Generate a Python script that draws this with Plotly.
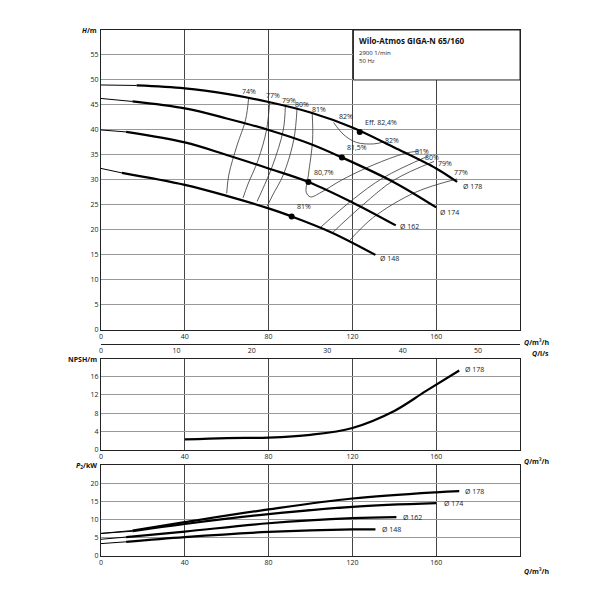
import plotly.graph_objects as go

# Kennlinien H(Q) je Laufraddurchmesser
h_q = {
    "178": [0, 17, 40, 60, 80, 100, 120, 140, 160, 170],
    "174": [0, 15, 40, 60, 80, 100, 115, 140, 160],
    "162": [0, 12, 40, 60, 80, 99, 120, 140.7],
    "148": [0, 10, 40, 60, 80, 91, 110, 131],
}
h_h = {
    "178": [49, 48.9, 48.3, 47.2, 45.6, 43.5, 40.5, 36.5, 32.3, 29.6],
    "174": [46.3, 45.7, 44.3, 42.3, 40, 37.2, 34.5, 29.5, 24.5],
    "162": [40, 39.6, 37.5, 35, 32.3, 29.6, 25.5, 20.9],
    "148": [32.3, 31.4, 29, 26.8, 24.3, 22.7, 19.5, 15],
}
h_labels = {"178": (172, 28.6), "174": (161, 23.5), "162": (142, 20.7), "148": (132, 14.3)}

# Wirkungsgrad-Isolinien
eff_lines = [
    ("74%", [70.5, 69, 65, 61, 60], [46.5, 42, 37, 31, 27.3], (70.5, 47.6)),
    ("77%", [80.5, 79, 75, 70, 67.8], [45.6, 40, 34, 29, 26.4], (82, 46.8)),
    ("79%", [88, 87, 82, 77, 74.5], [45, 40, 33, 28, 25.7], (89.5, 45.8)),
    ("80%", [93.6, 92, 87, 82, 79.3], [44.5, 38, 31, 27, 24.7], (96, 45)),
    ("81%", [100.8, 101, 99, 98, 100, 105, 115, 130, 145, 152],
     [43.4, 38, 31, 27.5, 26.6, 27.5, 30, 33, 35.3, 35.8], (104, 44)),
    ("82%", [111, 116, 122, 130, 135], [41.5, 39, 37.5, 37.2, 37.6], (117, 42.6)),
    ("80%", [104.8, 120, 135, 155.8], [20.5, 26, 30.5, 34.7], (158, 34.5)),
    ("79%", [110.4, 125, 140, 159], [19.4, 25, 30, 33.7], (164, 33.3)),
    ("77%", [118.3, 130, 150, 170], [17.7, 22.5, 27.5, 30.2], (172, 31.5)),
]
extra_eff_labels = [("81%", (153, 35.6)), ("82%", (139, 37.8))]

bep_q = [123.5, 115, 99, 91]
bep_h = [39.6, 34.5, 29.6, 22.7]
bep_text = ["Eff. 82,4%", "81,5%", "80,7%", "81%"]

npsh_q = [40, 60, 80, 100, 120, 140, 155, 171]
npsh_v = [2.3, 2.6, 2.7, 3.3, 4.8, 8.5, 12.8, 17.3]

p_q = {
    "178": [0, 15, 40, 80, 120, 160, 171],
    "174": [0, 15, 40, 80, 120, 160],
    "162": [0, 12, 40, 80, 120, 141],
    "148": [0, 12, 40, 80, 120, 131],
}
p_v = {
    "178": [6.2, 7.0, 9.3, 12.8, 15.8, 17.5, 17.8],
    "174": [6.2, 6.8, 8.8, 11.5, 13.5, 14.5],
    "162": [4.6, 5.2, 6.7, 9.0, 10.4, 10.7],
    "148": [3.4, 3.9, 5.2, 6.6, 7.3, 7.3],
}
p_labels = {"178": (173, 17.8), "174": (163, 14.4), "162": (143, 10.7), "148": (133, 7.3)}

FONT = "Open Sans"
TXT = dict(family=FONT, size=7, color="#222")
fig = go.Figure()


def curve(xs, ys, xa, ya, thin_first=True):
    if thin_first:
        fig.add_trace(go.Scatter(x=xs[:2], y=ys[:2], mode="lines", xaxis=xa, yaxis=ya,
                                 line=dict(color="black", width=1, shape="spline")))
        xs, ys = xs[1:], ys[1:]
    fig.add_trace(go.Scatter(x=xs, y=ys, mode="lines", xaxis=xa, yaxis=ya,
                             line=dict(color="black", width=2.2, shape="spline")))


for name, qs, hs, pos in eff_lines:
    fig.add_trace(go.Scatter(x=qs, y=hs, mode="lines",
                             line=dict(color="#333", width=0.8, shape="spline")))
    fig.add_annotation(x=pos[0], y=pos[1], text=name, showarrow=False, font=TXT)
for name, pos in extra_eff_labels:
    fig.add_annotation(x=pos[0], y=pos[1], text=name, showarrow=False, font=TXT)

for k in h_q:
    curve(h_q[k], h_h[k], "x", "y")
    fig.add_annotation(x=h_labels[k][0], y=h_labels[k][1], text="Ø " + k, showarrow=False,
                       xanchor="left", font=TXT)

fig.add_trace(go.Scatter(x=bep_q, y=bep_h, mode="markers",
                         marker=dict(color="black", size=6)))
for q, h, t in zip(bep_q, bep_h, bep_text):
    fig.add_annotation(x=q + 1.5, y=h + 0.6, text=t, showarrow=False, xanchor="left",
                       yanchor="bottom", font=TXT)

# Typ-Kasten
fig.add_shape(type="rect", x0=120.5, x1=200, y0=50, y1=60, xref="x", yref="y",
              line=dict(color="#222", width=1), fillcolor="white")
fig.add_annotation(x=122, y=59.5, text="<b>Wilo-Atmos GIGA-N 65/160</b>", showarrow=False,
                   xanchor="left", yanchor="top", font=dict(family=FONT, size=8, color="#111"))
fig.add_annotation(x=122, y=56.6, text="2900 1/min<br>50 Hz", showarrow=False, align="left",
                   xanchor="left", yanchor="top", font=dict(family=FONT, size=6, color="#222"))

curve(npsh_q, npsh_v, "x3", "y3", thin_first=False)
fig.add_annotation(x=173, y=17.5, text="Ø 178", showarrow=False, xanchor="left",
                   xref="x3", yref="y3", font=TXT)

for k in p_q:
    curve(p_q[k], p_v[k], "x4", "y4")
    fig.add_annotation(x=p_labels[k][0], y=p_labels[k][1], text="Ø " + k, showarrow=False,
                       xanchor="left", xref="x4", yref="y4", font=TXT)

grid_x = dict(range=[0, 200], tickvals=[0, 40, 80, 120, 160], showgrid=True,
              gridcolor="#444", gridwidth=0.8, showline=True, linecolor="#222", mirror=True,
              zeroline=False, tickfont=TXT, ticks="", fixedrange=True)
grid_y = dict(showgrid=True, gridcolor="#999", gridwidth=0.8, showline=True,
              linecolor="#222", mirror=True, zeroline=False, tickfont=TXT, ticks="")

fig.update_layout(
    width=600, height=600, showlegend=False,
    margin=dict(l=93, r=88, t=22, b=52),
    paper_bgcolor="white", plot_bgcolor="white",
    xaxis=dict(grid_x, anchor="y"),
    yaxis=dict(grid_y, domain=[0.43, 1], range=[0, 60],
               tickvals=list(range(0, 60, 5))),
    xaxis2=dict(range=[0, 200 / 3.6], overlaying="x", anchor="free", position=0.403,
                side="bottom", tickvals=[0, 10, 20, 30, 40, 50], showgrid=False,
                showline=True, linecolor="#222", tickfont=TXT, ticks="", zeroline=False),
    xaxis3=dict(grid_x, anchor="y3"),
    yaxis3=dict(grid_y, domain=[0.2015, 0.3745], range=[0, 19.8], tickvals=[0, 4, 8, 12, 16]),
    xaxis4=dict(grid_x, anchor="y4"),
    yaxis4=dict(grid_y, domain=[0, 0.173], range=[0, 25], tickvals=[0, 5, 10, 15, 20]),
)
# unsichtbare Spur für die l/s-Achse
fig.add_trace(go.Scatter(x=[0], y=[0], xaxis="x2", yaxis="y", mode="markers",
                         marker=dict(opacity=0), hoverinfo="skip"))

AX = dict(family=FONT, size=7, color="#111")
for x, y, t in [(-0.005, 1.0, "<b><i>H</i>/m</b>"), (1.075, 0.405, "<b><i>Q</i>/m³/h</b>"),
                (1.075, 0.385, "<b><i>Q</i>/l/s</b>"), (-0.005, 0.373, "<b>NPSH/m</b>"),
                (1.075, 0.18, "<b><i>Q</i>/m³/h</b>"), (-0.005, 0.173, "<b><i>P</i><sub>2</sub>/kW</b>"),
                (1.075, -0.03, "<b><i>Q</i>/m³/h</b>")]:
    fig.add_annotation(x=x, y=y, xref="paper", yref="paper", text=t, showarrow=False,
                       xanchor="right", yanchor="middle", font=AX)

fig.write_html("out.html")
